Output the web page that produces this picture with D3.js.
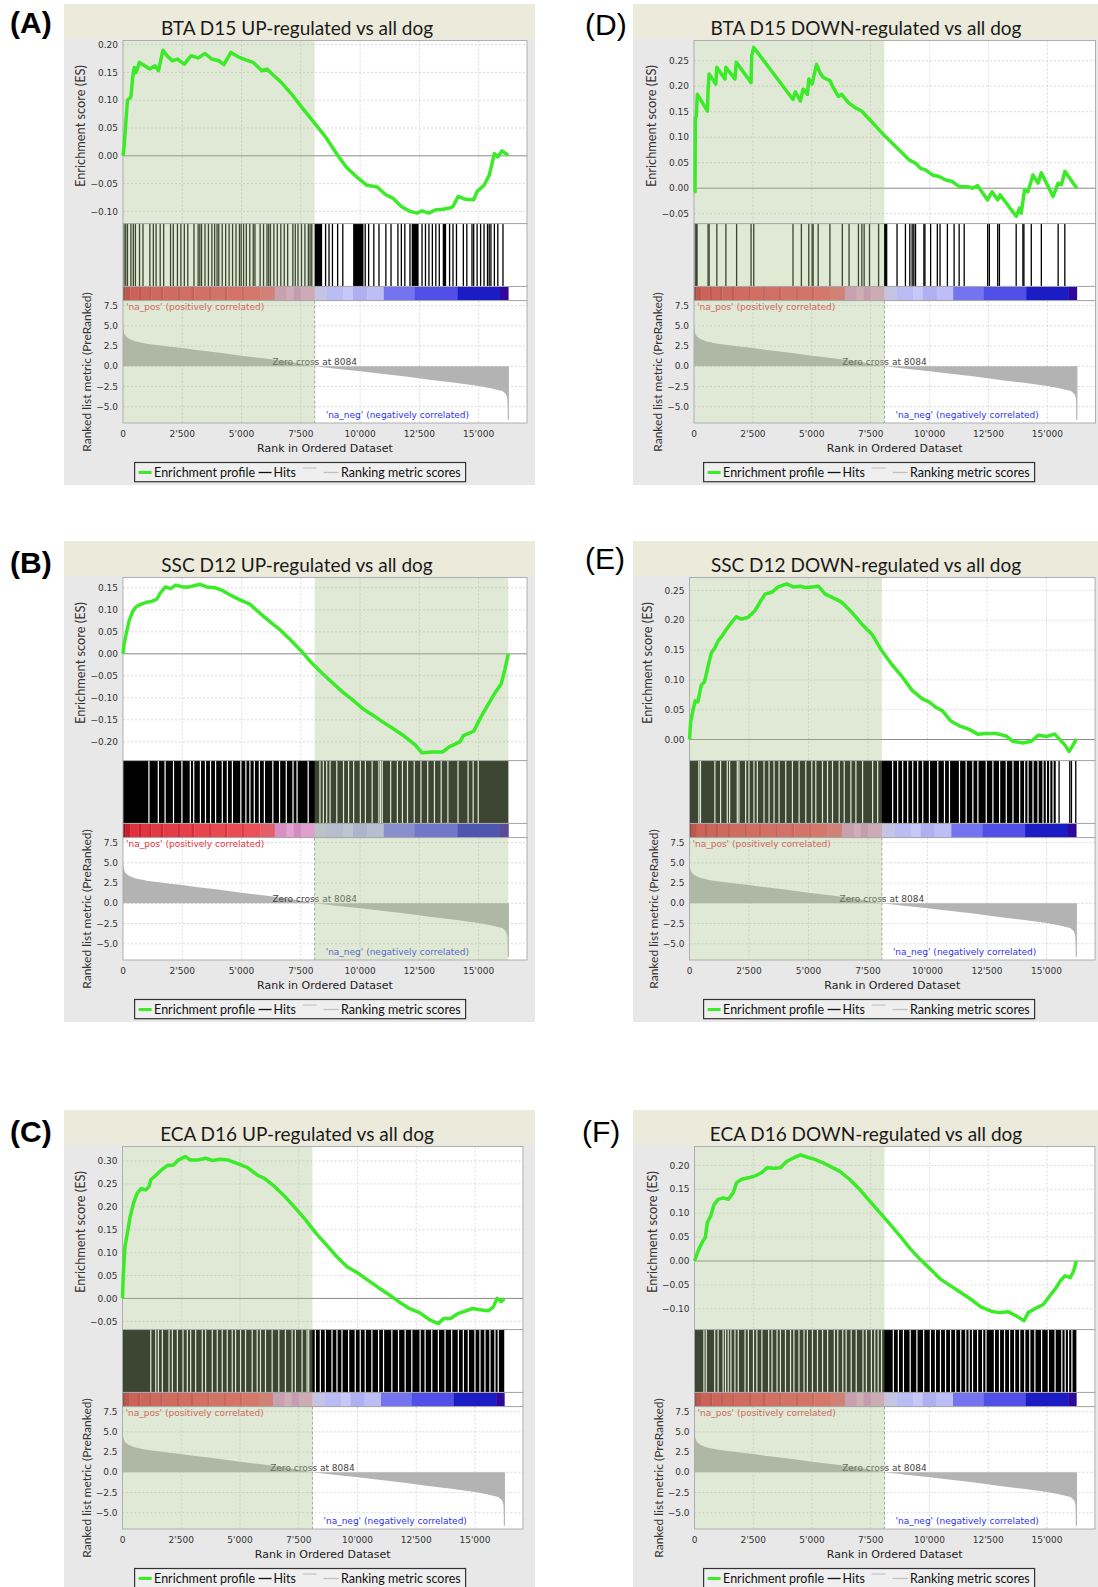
<!DOCTYPE html>
<html>
<head>
<meta charset="utf-8">
<script src="https://cdnjs.cloudflare.com/ajax/libs/d3/7.8.5/d3.min.js"></script>
<style>
  body { margin: 0; background: #fff; }
  svg { display: block; }
</style>
</head>
<body>
<svg id="fig" width="1098" height="1587"></svg>
<script>
// ranked list (same for all six panels)
var ZERO_CROSS = 8084;
var N_GENES = 16250;
var X_MAX = 17040;
var rankTicks = [0, 2500, 5000, 7500, 10000, 12500, 15000];
var metricTicks = [7.5, 5.0, 2.5, 0.0, -2.5, -5.0];

// ranked list metric, [rank, value]
var metricPts = [[0,5.0],[20,4.5],[60,4.0],[120,3.7],[250,3.4],[500,3.1],[1000,2.8],[1500,2.6],[2000,2.42],
  [2500,2.25],[3000,2.05],[4000,1.7],[5000,1.3],[6000,0.95],[7000,0.55],[8084,0],[9000,-0.3],[10000,-0.62],
  [11000,-0.95],[12000,-1.3],[13000,-1.68],[14000,-2.05],[15000,-2.45],[15500,-2.7],[16000,-3.05],
  [16150,-3.45],[16215,-4.0],[16240,-5.2],[16250,-6.6]];

// colour bar under the hits, [start rank, colour]
var barStops = [[0,"#8c1420"],[90,"#c81e2c"],[300,"#e0303c"],[650,"#c82030"],[760,"#e0343e"],[1100,"#cc2434"],
  [1200,"#e23a44"],[1600,"#d02838"],[1700,"#e43c46"],[2300,"#d22c3a"],[2400,"#e6404a"],[2900,"#d42e3c"],
  [3000,"#e8444e"],[3600,"#d63240"],[3700,"#e84850"],[4300,"#d83644"],[4400,"#ea4c54"],[5000,"#dc3c48"],
  [5100,"#ec5058"],[5800,"#e46068"],[6400,"#d890c4"],[6900,"#e4a4d0"],[7200,"#d48cc0"],[7500,"#e0a0cc"],
  [8084,"#c4c4e4"],[8600,"#bcbcf4"],[9300,"#c8c8f8"],[9700,"#b0b0f0"],[10300,"#bebef6"],[11000,"#7474f0"],
  [12300,"#5050e8"],[14100,"#1c1cc4"],[15900,"#30089c"]];

// enrichment profiles, [rank, ES]
var esA = [[0,0],[44,0.016],[116,0.058],[189,0.10],[334,0.106],[407,0.141],[480,0.159],[552,0.150],[697,0.168],
  [915,0.162],[1133,0.156],[1351,0.162],[1497,0.153],[1685,0.19],[1860,0.180],[2078,0.171],[2296,0.174],
  [2586,0.165],[2877,0.180],[3168,0.176],[3458,0.184],[3749,0.174],[4039,0.171],[4257,0.164],[4548,0.186],
  [4911,0.177],[5202,0.172],[5492,0.168],[5856,0.153],[6073,0.156],[6364,0.144],[6655,0.133],[7091,0.112],
  [7527,0.088],[8035,0.061],[8544,0.034],[9052,0.001],[9415,-0.020],[9779,-0.035],[10288,-0.053],
  [10723,-0.056],[11086,-0.070],[11377,-0.076],[11740,-0.091],[12103,-0.100],[12394,-0.103],[12612,-0.099],
  [12903,-0.103],[13193,-0.097],[13484,-0.096],[13774,-0.094],[13919,-0.091],[14137,-0.073],[14428,-0.078],
  [14791,-0.079],[14936,-0.064],[15227,-0.053],[15445,-0.035],[15663,0.004],[15808,-0.002],[15983,0.009],
  [16250,0.001]];
var esB = [[0,0],[44,0.022],[116,0.041],[262,0.076],[407,0.096],[552,0.107],[770,0.113],[988,0.117],
  [1206,0.119],[1424,0.124],[1569,0.138],[1787,0.152],[2005,0.148],[2223,0.156],[2514,0.152],[2804,0.152],
  [3240,0.158],[3531,0.152],[3894,0.150],[4185,0.144],[4621,0.131],[4911,0.123],[5347,0.113],[5783,0.092],
  [6219,0.072],[6655,0.053],[7091,0.030],[7527,0.006],[7962,-0.021],[8398,-0.044],[8834,-0.066],
  [9270,-0.087],[9706,-0.106],[10142,-0.126],[10578,-0.141],[11014,-0.157],[11450,-0.172],[11886,-0.188],
  [12322,-0.207],[12612,-0.225],[13048,-0.223],[13484,-0.223],[13774,-0.211],[14210,-0.200],[14355,-0.186],
  [14791,-0.176],[15082,-0.145],[15372,-0.118],[15663,-0.091],[15953,-0.068],[16099,-0.037],[16250,0]];
var esC = [[0,0],[29,0.047],[103,0.113],[205,0.142],[323,0.178],[469,0.208],[616,0.229],[792,0.240],
  [982,0.237],[1129,0.244],[1202,0.259],[1422,0.269],[1642,0.280],[1935,0.291],[2155,0.291],[2375,0.302],
  [2668,0.310],[2888,0.302],[3181,0.302],[3548,0.306],[3841,0.301],[4134,0.304],[4501,0.302],[4867,0.295],
  [5307,0.286],[5747,0.269],[6040,0.262],[6480,0.244],[6920,0.222],[7359,0.197],[7799,0.171],[8239,0.142],
  [8679,0.117],[9119,0.091],[9558,0.069],[9998,0.056],[10438,0.040],[10878,0.024],[11317,0.009],
  [11757,-0.007],[12197,-0.022],[12637,-0.031],[13077,-0.047],[13443,-0.055],[13663,-0.044],[13956,-0.044],
  [14249,-0.034],[14616,-0.027],[14909,-0.022],[15202,-0.025],[15569,-0.027],[15789,-0.018],[15936,0.0],
  [16120,-0.007],[16250,0]];
var esD = [[0,-0.007],[43,-0.007],[57,0.138],[100,0.141],[142,0.184],[570,0.151],[598,0.194],[641,0.224],
  [926,0.204],[969,0.237],[1311,0.214],[1353,0.237],[1738,0.214],[1795,0.247],[2422,0.207],[2450,0.26],
  [2536,0.276],[4202,0.174],[4302,0.189],[4516,0.171],[4630,0.194],[4815,0.184],[4872,0.214],[5014,0.204],
  [5199,0.243],[5342,0.227],[5484,0.217],[5769,0.211],[5912,0.197],[6125,0.180],[6268,0.184],[6553,0.168],
  [6838,0.158],[7123,0.151],[8048,0.105],[8689,0.076],[9117,0.056],[9402,0.049],[9616,0.039],[9830,0.036],
  [10114,0.026],[10399,0.023],[10684,0.016],[10969,0.013],[11254,0.003],[11610,0.003],[11823,0.0],
  [12037,0.005],[12464,-0.023],[12649,-0.007],[12891,-0.023],[12991,-0.013],[13675,-0.055],[13817,-0.039],
  [13888,-0.049],[14031,-0.003],[14174,-0.007],[14387,0.026],[14601,0.010],[14743,0.030],[15242,-0.016],
  [15456,0.010],[15598,0.007],[15740,0.033],[16250,0.0]];
var esE = [[0,0],[42,0.028],[141,0.048],[239,0.065],[352,0.063],[493,0.091],[634,0.097],[774,0.122],
  [915,0.145],[1056,0.153],[1197,0.165],[1408,0.176],[1549,0.185],[1760,0.196],[1971,0.206],[2182,0.202],
  [2464,0.205],[2746,0.216],[2957,0.230],[3168,0.244],[3450,0.247],[3731,0.256],[4083,0.261],[4365,0.256],
  [4646,0.257],[4858,0.255],[5139,0.256],[5421,0.257],[5702,0.244],[6125,0.236],[6406,0.230],[6829,0.213],
  [7251,0.193],[7674,0.176],[8096,0.148],[8518,0.125],[8941,0.105],[9363,0.082],[9786,0.068],[10067,0.063],
  [10349,0.054],[10630,0.048],[10982,0.031],[11334,0.023],[11757,0.017],[12109,0.009],[12461,0.010],
  [12883,0.010],[13306,0.006],[13587,-0.003],[14010,-0.006],[14362,-0.003],[14643,0.007],[14995,0.005],
  [15347,0.009],[15558,0.0],[15770,-0.009],[15953,-0.020],[16122,-0.009],[16250,0.001]];
var esF = [[0,0],[72,0.010],[215,0.028],[358,0.042],[459,0.049],[545,0.080],[688,0.094],[832,0.118],
  [1004,0.129],[1219,0.132],[1434,0.129],[1649,0.143],[1792,0.164],[2008,0.171],[2294,0.174],[2581,0.178],
  [2868,0.185],[3083,0.195],[3370,0.194],[3657,0.195],[3944,0.209],[4230,0.216],[4517,0.222],[4804,0.217],
  [5091,0.213],[5449,0.206],[5808,0.197],[6166,0.188],[6596,0.171],[7027,0.150],[7457,0.125],[7887,0.101],
  [8317,0.077],[8747,0.052],[9178,0.026],[9608,0.003],[10038,-0.017],[10468,-0.038],[10898,-0.052],
  [11329,-0.066],[11759,-0.080],[12189,-0.096],[12619,-0.105],[12978,-0.108],[13336,-0.106],[13695,-0.115],
  [14025,-0.125],[14197,-0.108],[14555,-0.098],[14842,-0.091],[15057,-0.077],[15344,-0.059],[15559,-0.042],
  [15774,-0.031],[15989,-0.035],[16133,-0.021],[16250,0.0]];

// hits: single hit ranks, solid runs [from, to] and white gaps inside runs
var hitsA = [44,116,189,334,436,523,697,843,1133,1279,1395,1569,1715,2005,2121,2296,2441,2586,2732,2993,
  3168,3240,3313,3458,3603,3749,3865,3967,4039,4185,4330,4475,4621,4766,4911,4984,5086,5202,5347,5492,5565,
  5783,5928,6073,6146,6219,6364,6509,6655,6800,6945,7163,7265,7381,7527,7672,7817,7890,7962,8544,8689,8834,
  9052,9270,10215,10360,10578,10796,11086,11304,11595,11740,11886,12103,12612,12757,12903,13048,13193,13339,
  13774,13919,14065,14355,14501,14719,14791,14936,15082,15227,15373,15445,15518,15663,15808,16026];
var runsA = [[8079,8398],[9706,10142],[12176,12467],[13484,13629]];

var hitsD = [50,100,130,598,641,969,1353,1809,2422,2536,4202,4558,4872,5014,5057,5271,5769,6296,6581,6980,
  7123,7222,7450,7835,8091,8134,8177,8618,8974,9160,9259,9330,9402,9758,9801,10043,10328,10442,10755,11040,
  11254,11468,12464,12536,12891,12963,13675,13960,14003,14316,14743,15456,15740];

var runsB = [[0,16250]];
var gapsB = [1093,1491,1775,2130,2485,2840,2982,3266,3479,3692,3905,4189,4402,4615,4970,5183,5353,5538,5751,
  5964,6319,6603,6887,7171,7341,7810,8307,8449,8591,8733,9017,9301,9514,9727,10011,10224,10508,10792,10863,
  10934,11289,11573,11786,11999,12283,12567,12851,13135,13419,13703,14129,14555,14768,14981];

var runsC = [[0,16244]];
var gapsC = [1203,1415,1528,1698,1981,2123,2335,2575,2759,2901,3113,3396,3538,3821,4033,4245,4457,4670,4811,
  5023,5236,5519,5731,5872,6085,6368,6651,6934,7217,7358,7641,7853,7924,8207,8419,8632,8915,9127,9339,9622,
  9905,10117,10330,10613,10896,11108,11462,11745,12028,12311,12664,12877,13160,13443,13726,14009,14292,14504,
  14716,14999,15211,15424,15636,15848,15990];

var runsE = [[0,15388]];
var hitsE = [15528,15978,16048,16230];
var gapsE = [393,463,1067,1306,1587,1685,2008,2078,2359,2499,2710,2850,3131,3342,3552,3763,4044,4325,4605,
  4886,5139,5307,5588,5799,6009,6290,6500,6781,6992,7273,7694,7905,8536,8747,8957,9168,9379,9589,9800,10081,
  10432,10713,10923,11344,11625,11906,12117,12468,12748,13029,13310,13591,13872,14082,14223,14433,14644,
  14854,14995,15135,15276];

var runsF = [[0,16250]];
var gapsF = [402,502,860,1004,1219,1319,1434,1549,1721,1864,2151,2294,2510,2653,2868,3155,3298,3513,3657,
  3872,4087,4230,4445,4661,4804,5019,5234,5449,5664,5951,6095,6310,6453,6668,6883,7170,7313,7529,7672,7815,
  7959,8461,8676,8891,9178,9464,9751,10038,10253,10468,10683,10898,11114,11329,11544,11687,11831,12046,
  12261,12404,12763,12978,13193,13408,13623,13838,14053,14268,14484,14770,15057,15344,15631,15774,15917,16060];

// panel placement
var panels = [
  {label:"(A)", bold:true,  lx:10,  ly:33,   x:64,  y:4,    plotX:123,   k:0.02371, title:"BTA D15 UP-regulated vs all dog",
   es:esA, esDomain:[-0.1219,0.2074], esTicks:[-0.10,-0.05,0,0.05,0.10,0.15,0.20], shade:[0,ZERO_CROSS],
   hits:hitsA, runs:runsA, gaps:[]},
  {label:"(B)", bold:true,  lx:10,  ly:573,  x:64,  y:541,  plotX:123,   k:0.02371, title:"SSC D12 UP-regulated vs all dog",
   es:esB, esDomain:[-0.2427,0.1734], esTicks:[-0.20,-0.15,-0.10,-0.05,0,0.05,0.10,0.15], shade:[ZERO_CROSS,N_GENES],
   hits:[], runs:runsB, gaps:gapsB},
  {label:"(C)", bold:true,  lx:10,  ly:1142, x:64,  y:1110, plotX:122.5, k:0.0235,  title:"ECA D16 UP-regulated vs all dog",
   es:esC, esDomain:[-0.0681,0.3317], esTicks:[-0.05,0,0.05,0.10,0.15,0.20,0.25,0.30], shade:[0,ZERO_CROSS],
   hits:[], runs:runsC, gaps:gapsC},
  {label:"(D)", bold:false, lx:585, ly:35,   x:633, y:4,    plotX:694,   k:0.02356, title:"BTA D15 DOWN-regulated vs all dog",
   es:esD, esDomain:[-0.0694,0.2896], esTicks:[-0.05,0,0.05,0.10,0.15,0.20,0.25], shade:[0,ZERO_CROSS],
   hits:hitsD, runs:[], gaps:[]},
  {label:"(E)", bold:false, lx:585, ly:569,  x:633, y:541,  plotX:689.5, k:0.0238,  title:"SSC D12 DOWN-regulated vs all dog",
   es:esE, esDomain:[-0.0354,0.2718], esTicks:[0,0.05,0.10,0.15,0.20,0.25], shade:[0,ZERO_CROSS],
   hits:hitsE, runs:runsE, gaps:gapsE},
  {label:"(F)", bold:false, lx:582, ly:1142, x:633, y:1110, plotX:694.5, k:0.0235,  title:"ECA D16 DOWN-regulated vs all dog",
   es:esF, esDomain:[-0.1435,0.2395], esTicks:[-0.10,-0.05,0,0.05,0.10,0.15,0.20], shade:[0,ZERO_CROSS],
   hits:[], runs:runsF, gaps:gapsF}
];

var svg = d3.select("#fig");
var tickFont = "'DejaVu Sans', Verdana, sans-serif";
var labelFont = "Lato, 'Open Sans', sans-serif";
var fmtRank = function(v) { return d3.format(",")(v).replace(/,/g, "'"); };

panels.forEach(drawPanel);

function drawPanel(p) {
  var g = svg.append("g");
  var y0 = p.y;
  var esTop = y0 + 36.5, esBot = y0 + 219.6, hitBot = y0 + 282.4, barBot = y0 + 296.6, metBot = y0 + 419;

  var x = d3.scaleLinear().domain([0, X_MAX]).range([p.plotX, p.plotX + X_MAX * p.k]);
  var yEs = d3.scaleLinear().domain(p.esDomain).range([esBot, esTop]);
  var yMet = d3.scaleLinear().domain([-7.01, 8.12]).range([metBot, barBot]);
  var left = x(0), right = x(X_MAX);

  // panel frame
  g.append("rect").attr("x", p.x).attr("y", y0).attr("width", 471).attr("height", 481).attr("fill", "#e8e8e8");
  g.append("rect").attr("x", p.x).attr("y", y0).attr("width", 471).attr("height", 35).attr("fill", "#eceadb");
  g.append("text").attr("x", p.x + 233).attr("y", y0 + 31).attr("text-anchor", "middle")
    .style("font-family", labelFont).style("font-size", "19px").attr("fill", "#1a1a1a").text(p.title);

  // white plot areas
  g.append("rect").attr("x", left).attr("y", esTop).attr("width", right - left).attr("height", metBot - esTop).attr("fill", "#fff");

  // grids
  var grid = g.append("g").attr("stroke", "#d0d0d0").attr("stroke-width", 0.8).attr("stroke-dasharray", "2,2");
  rankTicks.slice(1).forEach(function(r) {
    grid.append("line").attr("x1", x(r)).attr("x2", x(r)).attr("y1", esTop).attr("y2", esBot);
    grid.append("line").attr("x1", x(r)).attr("x2", x(r)).attr("y1", barBot).attr("y2", metBot);
  });
  p.esTicks.forEach(function(v) {
    if (Math.abs(v) < 1e-9) return;
    grid.append("line").attr("x1", left).attr("x2", right).attr("y1", yEs(v)).attr("y2", yEs(v));
  });
  metricTicks.forEach(function(v) {
    grid.append("line").attr("x1", left).attr("x2", right).attr("y1", yMet(v)).attr("y2", yMet(v));
  });
  g.append("line").attr("x1", left).attr("x2", right).attr("y1", yEs(0)).attr("y2", yEs(0))
    .attr("stroke", "#8a8a8a").attr("stroke-width", 1);

  // hits
  var hg = g.append("g");
  p.runs.forEach(function(d) {
    hg.append("rect").attr("x", x(d[0])).attr("y", esBot).attr("width", Math.max(1.3, x(d[1]) - x(d[0])))
      .attr("height", hitBot - esBot).attr("fill", "#000");
  });
  p.hits.forEach(function(r) {
    hg.append("rect").attr("x", x(r) - 0.65).attr("y", esBot).attr("width", 1.3)
      .attr("height", hitBot - esBot).attr("fill", "#000");
  });
  p.gaps.forEach(function(r) {
    hg.append("rect").attr("x", x(r) - 0.6).attr("y", esBot).attr("width", 1.2)
      .attr("height", hitBot - esBot).attr("fill", "#fff");
  });

  // colour bar
  barStops.forEach(function(d, i) {
    var end = i < barStops.length - 1 ? barStops[i + 1][0] : N_GENES;
    g.append("rect").attr("x", x(d[0])).attr("y", hitBot).attr("width", x(end) - x(d[0]) + 0.3)
      .attr("height", barBot - hitBot).attr("fill", d[1]);
  });

  // ranked list metric
  var area = d3.area().x(function(d) { return x(d[0]); }).y0(yMet(0)).y1(function(d) { return yMet(d[1]); });
  g.append("path").datum(metricPts).attr("d", area).attr("fill", "#b3b3b3");
  var last = metricPts[metricPts.length - 1];
  g.append("line").attr("x1", x(last[0])).attr("x2", x(last[0])).attr("y1", yMet(0)).attr("y2", yMet(last[1]))
    .attr("stroke", "#b3b3b3").attr("stroke-width", 1.2);
  g.append("line").attr("x1", x(ZERO_CROSS)).attr("x2", x(ZERO_CROSS)).attr("y1", barBot).attr("y2", metBot)
    .attr("stroke", "#999").attr("stroke-width", 0.9).attr("stroke-dasharray", "3,2");

  g.append("text").attr("x", left + 3).attr("y", y0 + 305.5)
    .style("font-family", tickFont).style("font-size", "9px").attr("fill", "#e8303c")
    .text("'na_pos' (positively correlated)");
  g.append("text").attr("x", x(ZERO_CROSS) + 11).attr("y", y0 + 414)
    .style("font-family", tickFont).style("font-size", "9px").attr("fill", "#3030f0")
    .text("'na_neg' (negatively correlated)");
  g.append("text").attr("x", x(ZERO_CROSS)).attr("y", yMet(0) - 1.5).attr("text-anchor", "middle")
    .style("font-family", tickFont).style("font-size", "9px").attr("fill", "#444")
    .text("Zero cross at " + ZERO_CROSS);

  // translucent green shading over the chosen side
  g.append("rect").attr("x", x(p.shade[0])).attr("y", esTop).attr("width", x(p.shade[1]) - x(p.shade[0]))
    .attr("height", metBot - esTop).attr("fill", "rgb(170,190,140)").attr("fill-opacity", 0.36);

  // borders
  var bd = g.append("g").attr("fill", "none").attr("stroke", "#a8a8a8").attr("stroke-width", 0.9);
  [[esTop, esBot], [esBot, hitBot], [hitBot, barBot], [barBot, metBot]].forEach(function(b) {
    bd.append("rect").attr("x", left).attr("y", b[0]).attr("width", right - left).attr("height", b[1] - b[0]);
  });

  // enrichment profile
  var line = d3.line().x(function(d) { return x(d[0]); }).y(function(d) { return yEs(d[1]); });
  g.append("path").datum(p.es).attr("d", line).attr("fill", "none").attr("stroke", "#3ceb28")
    .attr("stroke-width", 3.5).attr("stroke-linejoin", "round");

  // axes text
  var tk = g.append("g").style("font-family", tickFont).style("font-size", "9px").attr("fill", "#333");
  p.esTicks.forEach(function(v) {
    tk.append("text").attr("x", left - 5).attr("y", yEs(v) + 3.2).attr("text-anchor", "end").text(d3.format(".2f")(v));
  });
  metricTicks.forEach(function(v) {
    tk.append("text").attr("x", left - 5).attr("y", yMet(v) + 3.2).attr("text-anchor", "end").text(d3.format(".1f")(v));
  });
  rankTicks.forEach(function(r) {
    tk.append("text").attr("x", x(r)).attr("y", y0 + 433).attr("text-anchor", "middle").text(fmtRank(r));
  });
  g.append("text").attr("x", (left + right) / 2).attr("y", y0 + 448).attr("text-anchor", "middle")
    .style("font-family", tickFont).style("font-size", "11px").attr("fill", "#222").text("Rank in Ordered Dataset");

  g.append("text").attr("transform", "translate(" + (left - 38) + "," + ((esTop + esBot) / 2 - 6) + ") rotate(-90)")
    .attr("text-anchor", "middle").style("font-family", labelFont).style("font-size", "12.8px").attr("fill", "#333")
    .text("Enrichment score (ES)");
  g.append("text").attr("transform", "translate(" + (left - 32) + "," + (y0 + 368) + ") rotate(-90)")
    .attr("text-anchor", "middle").style("font-family", labelFont).style("font-size", "12px").attr("fill", "#333")
    .text("Ranked list metric (PreRanked)");

  // legend
  var lg = g.append("g").attr("transform", "translate(" + (p.x + 70.6) + "," + (y0 + 458.5) + ")");
  lg.append("rect").attr("width", 331).attr("height", 19.2).attr("fill", "#efefef").attr("stroke", "#333").attr("stroke-width", 1.2);
  lg.append("line").attr("x1", 4).attr("x2", 17).attr("y1", 10).attr("y2", 10).attr("stroke", "#3ceb28").attr("stroke-width", 3);
  lg.append("line").attr("x1", 124).attr("x2", 137).attr("y1", 10).attr("y2", 10).attr("stroke", "#111").attr("stroke-width", 1.3);
  lg.append("line").attr("x1", 168).attr("x2", 182).attr("y1", 5.5).attr("y2", 5.5).attr("stroke", "#c8c8c8").attr("stroke-width", 1.3);
  lg.append("line").attr("x1", 189).attr("x2", 204).attr("y1", 10).attr("y2", 10).attr("stroke", "#c0c0c0").attr("stroke-width", 1.3);
  var lt = lg.append("g").style("font-family", labelFont).style("font-size", "12.5px").attr("fill", "#111");
  lt.append("text").attr("x", 19.5).attr("y", 14.3).text("Enrichment profile");
  lt.append("text").attr("x", 139).attr("y", 14.3).text("Hits");
  lt.append("text").attr("x", 206.5).attr("y", 14.3).text("Ranking metric scores");

  // panel letter
  svg.append("text").attr("x", p.lx).attr("y", p.ly)
    .style("font-family", "'Liberation Sans', Arial, sans-serif").style("font-size", "30px")
    .style("font-weight", p.bold ? "bold" : "normal").attr("fill", "#000").text(p.label);
}
</script>
</body>
</html>
